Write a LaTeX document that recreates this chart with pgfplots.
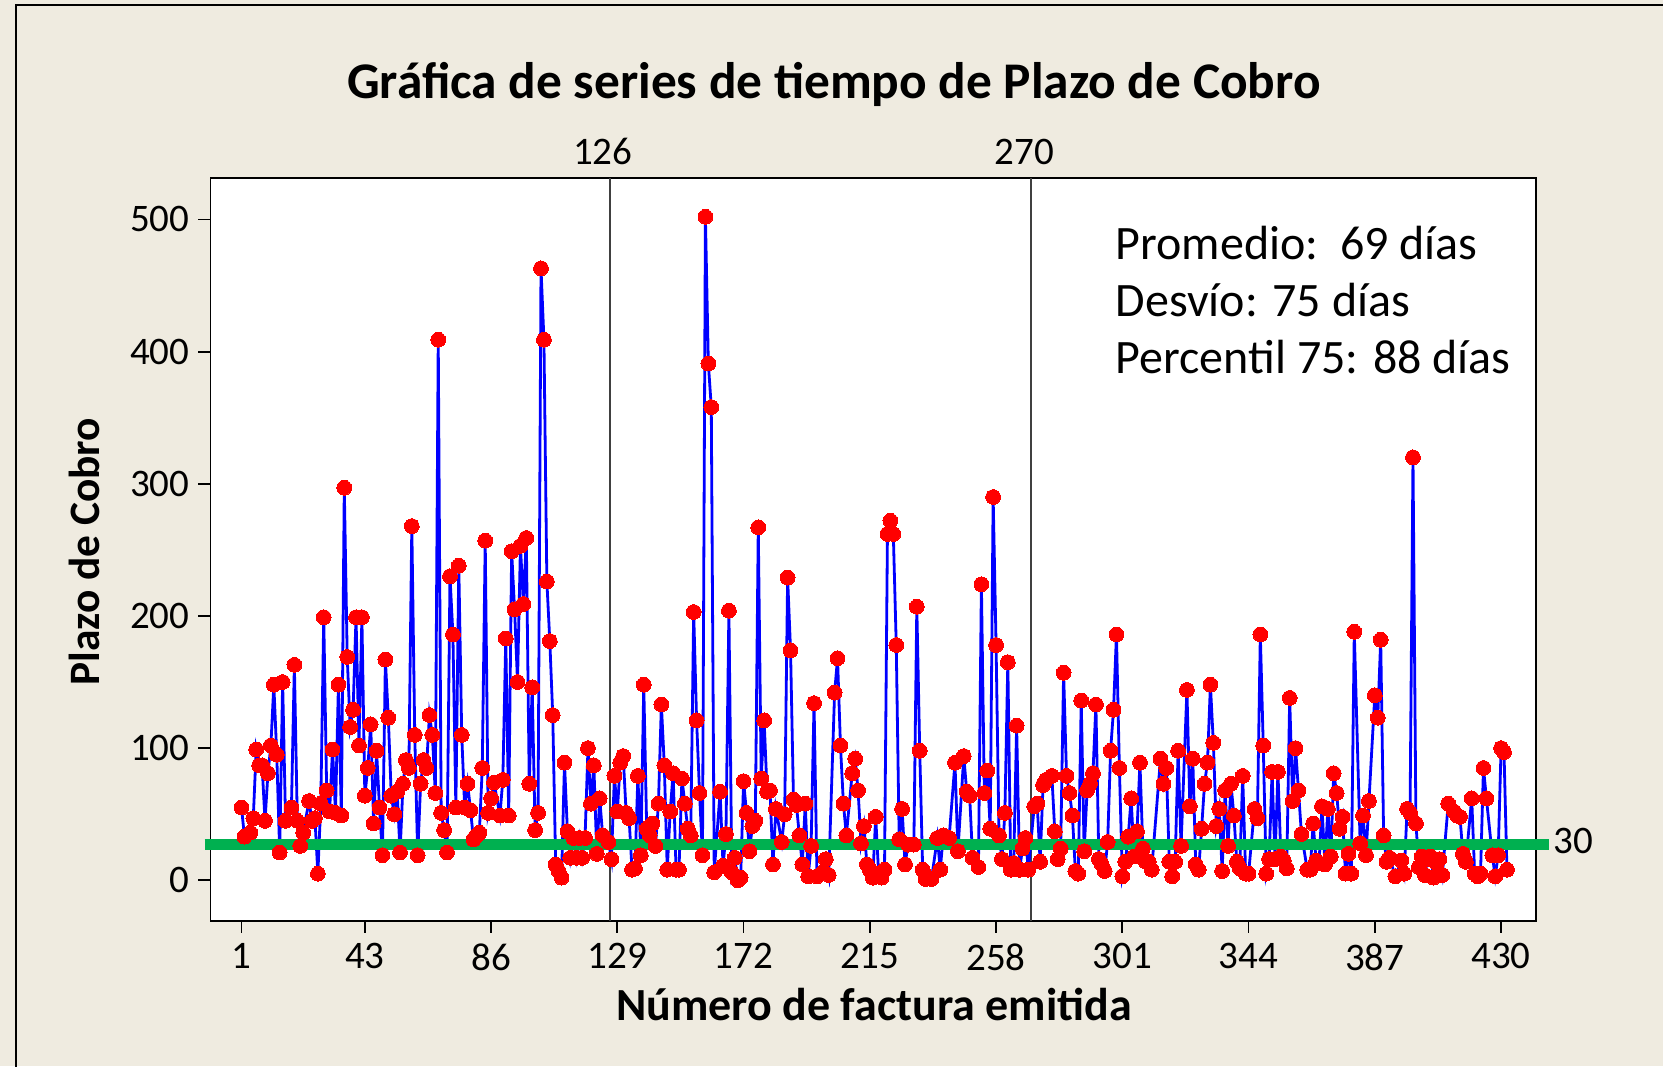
\documentclass[border=0pt]{standalone}
\usepackage{pgfplots}
\pgfplotsset{compat=1.18}
\usepackage{fontspec}
\setmainfont{Carlito}
\definecolor{bgc}{RGB}{239,235,224}
\definecolor{refgreen}{RGB}{0,176,80}
\definecolor{stagegray}{RGB}{64,64,64}
\begin{document}
\begin{tikzpicture}[x=1pt,y=1pt]
\fill[bgc] (0,0) rectangle (831.5,533);
\useasboundingbox (0,0) rectangle (831.5,533);
\draw[line width=0.8pt] (8,-10) -- (8,530.5) -- (845,530.5);
\begin{axis}[
  at={(105.2pt,72.7pt)}, anchor=south west,
  width=662.65pt, height=371.2pt, scale only axis,
  xmin=-9.6, xmax=441.8, ymin=-30.5, ymax=531.2,
  axis background/.style={fill=white},
  axis line style={line width=0.9pt},
  xtick={1,43,86,129,172,215,258,301,344,387,430},
  ytick={0,100,200,300,400,500},
  tick align=outside, major tick length=6pt,
  tick pos=left,
  tick style={line width=0.9pt,black},
  /pgf/number format/assume math mode=true,
  tick label style={font=\fontsize{19.5}{20}\selectfont},
  xticklabel style={yshift=-2pt},
  yticklabel style={xshift=-1pt},
  clip=false,
  title={\fontsize{25.7}{27}\selectfont\bfseries Gráfica de series de tiempo de Plazo de Cobro},
  title style={at={(axis description cs:0.4705,1.110)}, anchor=center},
  xlabel={\fontsize{23}{24}\selectfont\bfseries Número de factura emitida},
  xlabel style={at={(axis description cs:0.5007,-0.1129)}, anchor=center},
  ylabel={\fontsize{21.7}{22}\selectfont\bfseries Plazo de Cobro},
  ylabel style={at={(axis description cs:-0.0948,0.497)}, anchor=center, rotate=0},
]
\draw[stagegray, line width=0.9pt] (axis cs:126.5,-30.5) -- (axis cs:126.5,531.2);
\draw[stagegray, line width=0.9pt] (axis cs:269.9,-30.5) -- (axis cs:269.9,531.2);
\addplot[blue, line width=1.4pt, mark=*, mark size=3.7pt,
  mark options={draw=red, fill=red, line width=0pt}] coordinates {
(1,55)(2,33)(4,36)(5,47)(6,99)(7,87)(8,87)(9,45)(10,81)(11,102)
(12,148)(13,95)(14,21)(15,150)(16,45)(18,55)(19,163)(20,45)(21,26)(22,36)
(24,60)(25,45)(26,47)(27,5)(28,58)(29,199)(30,68)(31,52)(32,99)(33,51)
(34,148)(35,49)(36,297)(37,169)(38,116)(39,129)(40,199)(41,102)(42,199)(43,64)
(44,85)(45,118)(46,43)(47,98)(48,55)(49,19)(50,167)(51,123)(52,64)(53,50)
(54,67)(55,21)(56,73)(57,91)(58,85)(59,268)(60,110)(61,19)(62,73)(63,91)
(64,85)(65,125)(66,110)(67,66)(68,409)(69,51)(70,38)(71,21)(72,230)(73,186)
(74,55)(75,238)(76,110)(77,55)(78,73)(79,53)(80,31)(81,34)(82,36)(83,85)
(84,257)(85,51)(86,62)(87,74)(89,49)(90,76)(91,183)(92,49)(93,249)(94,205)
(95,150)(96,253)(97,209)(98,259)(99,73)(100,146)(101,38)(102,51)(103,463)(104,409)
(105,226)(106,181)(107,125)(108,12)(109,7)(110,2)(111,89)(112,37)(113,17)(114,32)
(115,17)(116,32)(117,17)(118,32)(119,100)(120,58)(121,87)(122,20)(123,62)(124,34)
(126,29)(127,16)(128,79)(129,52)(130,89)(131,94)(132,51)(133,47)(134,8)(135,9)
(136,79)(137,19)(138,148)(139,39)(140,34)(141,43)(142,26)(143,58)(144,133)(145,87)
(146,8)(147,52)(148,81)(149,8)(150,8)(151,77)(152,58)(153,39)(154,34)(155,203)
(156,121)(157,66)(158,19)(159,502)(160,391)(161,358)(162,6)(164,67)(165,11)(166,35)
(167,204)(168,6)(169,17)(170,0)(171,2)(172,75)(173,51)(174,22)(175,41)(176,45)
(177,267)(178,77)(179,121)(180,67)(181,68)(182,12)(183,54)(185,29)(186,50)(187,229)
(188,174)(189,61)(190,57)(191,34)(192,12)(193,58)(194,3)(195,26)(196,134)(197,3)
(199,6)(200,16)(201,4)(203,142)(204,168)(205,102)(206,58)(207,34)(209,81)(210,92)
(211,68)(212,28)(213,41)(214,12)(215,8)(216,2)(217,48)(218,5)(219,2)(220,8)
(221,262)(222,272)(223,262)(224,178)(225,31)(226,54)(227,12)(228,27)(230,27)(231,207)
(232,98)(233,8)(234,1)(236,1)(238,32)(239,8)(240,34)(242,32)(244,89)(245,22)
(247,94)(248,67)(249,64)(250,17)(252,10)(253,224)(254,66)(255,83)(256,39)(257,290)
(258,178)(259,34)(260,16)(261,51)(262,165)(263,8)(264,13)(265,117)(266,8)(267,24)
(268,32)(269,8)(271,56)(272,58)(273,14)(274,72)(275,76)(277,79)(278,37)(279,16)
(280,24)(281,157)(282,79)(283,66)(284,49)(285,7)(286,5)(287,136)(288,22)(289,68)
(290,73)(291,81)(292,133)(293,16)(294,12)(295,7)(296,29)(297,98)(298,129)(299,186)
(300,85)(301,3)(302,14)(303,33)(304,62)(305,18)(306,37)(307,89)(308,24)(309,14)
(310,14)(311,8)(314,92)(315,73)(316,85)(317,14)(318,3)(319,14)(320,98)(321,26)
(323,144)(324,56)(325,92)(326,12)(327,8)(328,39)(329,73)(330,89)(331,148)(332,104)
(333,41)(334,54)(335,7)(336,68)(337,26)(338,73)(339,49)(340,14)(341,9)(342,79)
(343,5)(344,5)(346,54)(347,47)(348,186)(349,102)(350,5)(351,16)(352,82)(353,16)
(354,82)(355,18)(356,15)(357,9)(358,138)(359,60)(360,100)(361,68)(362,35)(364,8)
(365,8)(366,43)(367,15)(368,13)(369,56)(370,12)(371,54)(372,18)(373,81)(374,66)
(375,39)(376,48)(377,5)(378,20)(379,5)(380,188)(382,28)(383,49)(384,19)(385,60)
(387,140)(388,123)(389,182)(390,34)(391,14)(392,17)(394,3)(396,15)(397,5)(398,54)
(399,51)(400,320)(401,43)(402,10)(403,18)(404,4)(405,16)(406,18)(407,2)(408,13)
(409,16)(410,4)(412,58)(414,52)(415,49)(416,48)(417,20)(418,14)(420,62)(421,5)
(422,3)(423,5)(424,85)(425,62)(427,19)(428,3)(429,19)(430,100)(431,97)(432,8)
};
\draw[refgreen, line width=5.6pt] (axis cs:-11.6,27) -- (axis cs:446.2,27);
\node[anchor=west, font=\fontsize{19.5}{20}\selectfont] at (axis cs:445.5,29.5) {30};
\node[anchor=south, font=\fontsize{19.5}{20}\selectfont] at (axis cs:124,536) {126};
\node[anchor=south, font=\fontsize{19.5}{20}\selectfont] at (axis cs:267.7,536) {270};
\node[anchor=west, align=left, font=\fontsize{24}{28.6}\selectfont] at (axis description cs:0.6778,0.8356) {Promedio:\ \ 69 días\\Desvío: 75 días\\Percentil 75: 88 días};
\end{axis}
\end{tikzpicture}
\end{document}
